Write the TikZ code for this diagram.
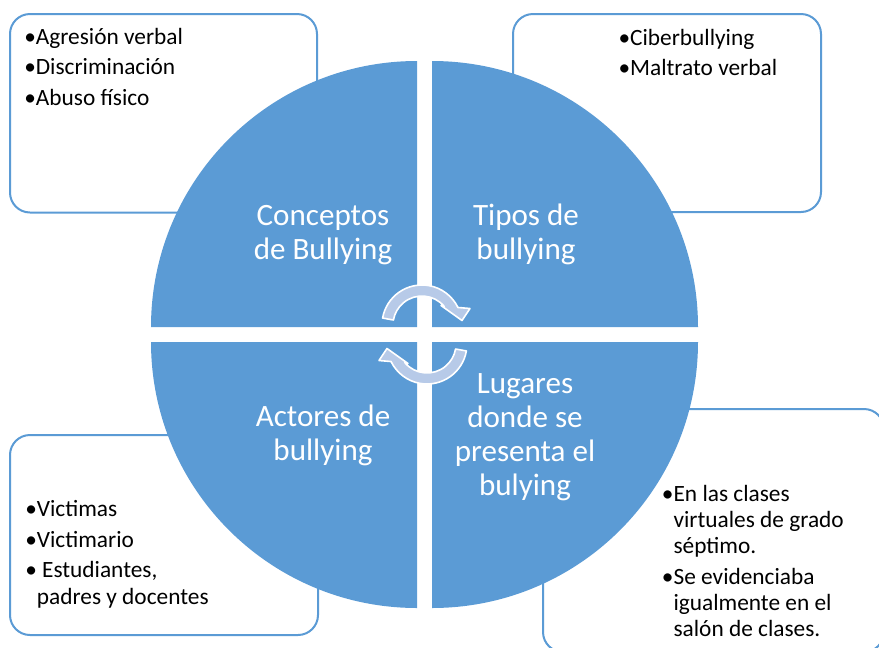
\documentclass[tikz,border=0pt]{standalone}
\usepackage{fontspec}
\setmainfont{Carlito}
\definecolor{qblue}{RGB}{91,155,213}
\definecolor{arrowfill}{RGB}{183,202,232}
\begin{document}
\begin{tikzpicture}[x=0.75pt,y=-0.75pt,
  infobox/.style={draw=qblue, line width=1.5pt, fill=white, rounded corners=15pt},
  quad/.style={fill=qblue},
  cyc/.style={fill=arrowfill, draw=white, line width=1.2pt, line join=round},
  qlabel/.style={inner sep=0pt, anchor=base, text=white, font=\fontsize{23.3}{25.5}\selectfont},
  bullets/.style={inner sep=0pt, anchor=base west, text=black, font=\fontsize{17.5}{19.5}\selectfont}]
\useasboundingbox (0,0) rectangle (879,647);
\clip (0,0) rectangle (879,647);
% outer boxes
\draw[infobox] (10,14) rectangle (317,212.5);
\draw[infobox] (513,14) rectangle (821,212);
\draw[infobox] (10,435) rectangle (318,635);
\draw[infobox] (543,409) rectangle (884,652);
% quadrants
\fill[quad] (417,327) -- (151,327) arc[start angle=180,end angle=270,radius=266] -- cycle;
\fill[quad] (432,327) -- (432,61) arc[start angle=270,end angle=360,radius=266] -- cycle;
\fill[quad] (417,342) -- (417,608) arc[start angle=90,end angle=180,radius=266] -- cycle;
\fill[quad] (432,342) -- (698,342) arc[start angle=0,end angle=90,radius=266] -- cycle;
% cycle arrows
\draw[cyc] (422,325) ++(190:40) arc[start angle=190,end angle=334,radius=40]
  -- (470,308.5) -- (462,320.5) -- (441,305.5) -- (444.2,306.4)
  arc[start angle=320,end angle=190,radius=29] -- cycle;
\begin{scope}[rotate around={180:(424.5,334.5)}]
\draw[cyc] (422,325) ++(190:40) arc[start angle=190,end angle=334,radius=40]
  -- (470,308.5) -- (462,320.5) -- (441,305.5) -- (444.2,306.4)
  arc[start angle=320,end angle=190,radius=29] -- cycle;
\end{scope}
% quadrant labels
\node[qlabel] (conceptos) at (323,225) {\begin{tabular}[t]{@{}c@{}}Conceptos\\de Bullying\end{tabular}};
\node[qlabel] (tipos) at (526,225) {\begin{tabular}[t]{@{}c@{}}Tipos de\\bullying\end{tabular}};
\node[qlabel] (actores) at (323,426.7) {\begin{tabular}[t]{@{}c@{}}Actores de\\bullying\end{tabular}};
\node[qlabel] (lugares) at (525,393.3) {\begin{tabular}[t]{@{}c@{}}Lugares\\donde se\\presenta el\\bulying\end{tabular}};
% box texts
\node[bullets] (tltext) at (24,44.3) {\begin{tabular}[t]{@{}l@{}}•Agresión verbal\\[3.4pt]•Discriminación\\[3.4pt]•Abuso físico\end{tabular}};
\node[bullets] (trtext) at (618.3,45) {\begin{tabular}[t]{@{}l@{}}•Ciberbullying\\[3.4pt]•Maltrato verbal\end{tabular}};
\node[bullets] (bltext) at (25,516.7) {\begin{tabular}[t]{@{}l@{}l@{}}•&Victimas\\[3.75pt]•&Victimario\\[3pt]•&\ Estudiantes,\\[0.75pt]&padres y docentes\end{tabular}};
\node[bullets] (brtext) at (661.7,501.7) {\begin{tabular}[t]{@{}l@{}l@{}}•&En las clases\\&virtuales de grado\\&séptimo.\\[3.75pt]•&Se evidenciaba\\&igualmente en el\\&salón de clases.\end{tabular}};
\end{tikzpicture}
\end{document}
